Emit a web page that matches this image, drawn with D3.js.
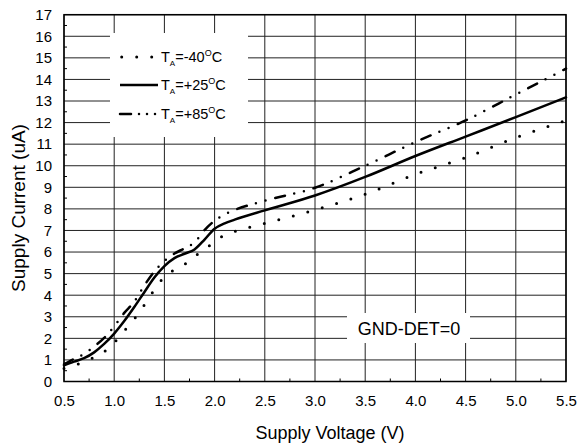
<!DOCTYPE html>
<html><head><meta charset="utf-8">
<script src="https://cdn.jsdelivr.net/npm/d3@7"></script>
<style>
body{margin:0;background:#fff;}
text{font-family:"Liberation Sans",Arial,sans-serif;fill:#000;}
</style></head>
<body><svg id="c" width="587" height="445"></svg>
<script>
const voltage = [0.5,0.6,0.7,0.8,0.9,1.0,1.1,1.2,1.3,1.4,1.5,1.6,1.7,1.8,1.9,2.0,2.1,2.2,2.5,3.0,3.5,4.0,4.5,5.0,5.5];
const currentM40 = [0.6,0.75,0.9,1.12,1.38,1.8,2.35,2.9,3.55,4.25,4.85,5.18,5.42,5.8,6.1,6.5,6.78,6.95,7.33,7.95,8.68,9.6,10.38,11.3,12.1];
const currentP25 = [0.75,0.92,1.08,1.35,1.74,2.22,2.8,3.45,4.14,4.82,5.35,5.72,5.92,6.12,6.58,7.08,7.33,7.5,7.93,8.62,9.48,10.45,11.35,12.25,13.17];
const currentP85 = [0.8,1.05,1.28,1.62,2.02,2.55,3.18,3.7,4.45,5.1,5.58,5.93,6.17,6.45,7.02,7.45,7.75,7.95,8.38,8.98,10.0,11.1,12.1,13.3,14.5];
const xTicks = [0.5,1.0,1.5,2.0,2.5,3.0,3.5,4.0,4.5,5.0,5.5];
const yTicks = d3.range(0,18,1);
const seriesNames = ["-40","+25","+85"];

const svg = d3.select("#c");
const x = d3.scaleLinear().domain([0.5,5.5]).range([64,566]);
const y = d3.scaleLinear().domain([0,17]).range([381.5,14.7]);

// grid
const g = svg.append("g");
g.selectAll(".vg").data(xTicks).join("line")
  .attr("x1",d=>x(d)).attr("x2",d=>x(d)).attr("y1",y(0)).attr("y2",y(17))
  .attr("stroke","#222").attr("stroke-width",1);
g.selectAll(".hg").data(yTicks).join("line")
  .attr("x1",x(0.5)).attr("x2",x(5.5)).attr("y1",d=>y(d)).attr("y2",d=>y(d))
  .attr("stroke","#222").attr("stroke-width",1);

// minor ticks
const xMinor = d3.range(0.75,5.5,0.5);
g.selectAll(".xm").data(xMinor).join("line")
  .attr("x1",d=>x(d)).attr("x2",d=>x(d)).attr("y1",y(0)).attr("y2",y(0)-3)
  .attr("stroke","#000");
const yMinor = d3.range(0.5,17,1);
g.selectAll(".ym").data(yMinor).join("line")
  .attr("x1",x(0.5)).attr("x2",x(0.5)+3).attr("y1",d=>y(d)).attr("y2",d=>y(d))
  .attr("stroke","#000");

// legend box & label box (white, covering grid)
svg.append("rect").attr("x",110).attr("y",33).attr("width",138).attr("height",104).attr("fill","#fff");
svg.append("rect").attr("x",347).attr("y",313).attr("width",123).attr("height",30).attr("fill","#fff");

// border
svg.append("rect").attr("x",x(0.5)).attr("y",y(17)).attr("width",x(5.5)-x(0.5)).attr("height",y(0)-y(17))
  .attr("fill","none").attr("stroke","#000").attr("stroke-width",1.5);

// axes labels
const xAxis = d3.axisBottom(x).tickValues(xTicks).tickFormat(d3.format(".1f")).tickSize(0).tickPadding(14);
const xa = svg.append("g").attr("transform",`translate(0,${y(0)})`).call(xAxis);
xa.select(".domain").remove();
xa.selectAll("text").attr("font-size",15).attr("font-family","Liberation Sans, Arial, sans-serif");
const yAxis = d3.axisLeft(y).tickValues(yTicks).tickFormat(d3.format("d")).tickSize(0).tickPadding(12);
const ya = svg.append("g").attr("transform",`translate(${x(0.5)},0)`).call(yAxis);
ya.select(".domain").remove();
ya.selectAll("text").attr("font-size",15).attr("font-family","Liberation Sans, Arial, sans-serif");

svg.append("text").attr("x",330).attr("y",439).attr("text-anchor","middle").attr("font-size",18).text("Supply Voltage (V)");
svg.append("text").attr("transform","translate(25,208) rotate(-90)").attr("text-anchor","middle").attr("font-size",19).text("Supply Current (uA)");

// curves
const line = d3.line().x(d=>x(d[0])).y(d=>y(d[1])).curve(d3.curveMonotoneX);
const styles = [
  {data:currentM40, dash:"0 15", w:3},
  {data:currentP25, dash:null, w:2.5},
  {data:currentP85, dash:"10 9.5 0 10 0 10", w:2.5}
];
styles.forEach(s=>{
  svg.append("path").datum(voltage.map((v,i)=>[v,s.data[i]]))
    .attr("d",line).attr("fill","none").attr("stroke","#000")
    .attr("stroke-width",s.w).attr("stroke-linecap","round")
    .attr("stroke-dasharray",s.dash);
});

// legend
const rows = [57,85,114];
styles.forEach((s,i)=>{
  const yy = rows[i];
  let x1 = 120, x2 = 158;
  if(i===0){x1=121.7;x2=153;}
  svg.append("line").attr("x1",x1).attr("x2",x2).attr("y1",yy).attr("y2",yy)
    .attr("stroke","#000").attr("stroke-width",s.w).attr("stroke-linecap",i===1?"butt":"round")
    .attr("stroke-dasharray",i===2?"11 8 0 8 0 8 0 8":s.dash);
  const t = svg.append("text").attr("x",161).attr("y",yy+5).attr("font-size",14.5);
  t.append("tspan").text("T");
  t.append("tspan").attr("font-size",8).attr("dy",4).text("A");
  t.append("tspan").attr("dy",-4).text("=" + seriesNames[i]);
  t.append("tspan").attr("font-size",9).attr("dy",-6).text("O");
  t.append("tspan").attr("dy",6).text("C");
});

svg.append("text").attr("x",409).attr("y",335).attr("text-anchor","middle").attr("font-size",18).text("GND-DET=0");
</script></body></html>
